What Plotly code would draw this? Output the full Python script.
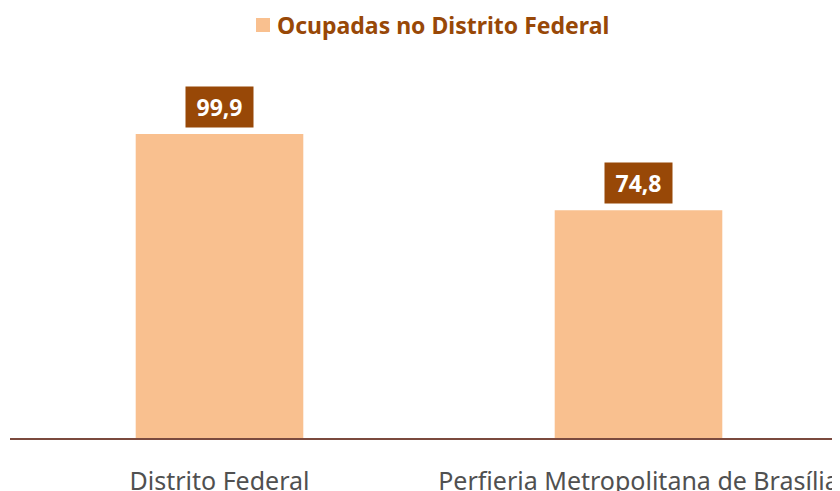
import plotly.graph_objects as go

categories = ["Distrito Federal", "Perfieria Metropolitana de Brasília"]
values = [99.9, 74.8]
labels = ["99,9", "74,8"]
series_name = "Ocupadas no Distrito Federal"

BAR_COLOR = "#F9C08F"
BROWN = "#984807"
FONT = "Noto Sans, Open Sans, sans-serif"

fig = go.Figure()
fig.add_trace(go.Bar(
    x=categories, y=values, name=series_name,
    marker=dict(color=BAR_COLOR, line=dict(width=0)),
    width=0.4, showlegend=False,
))

for c, v, t in zip(categories, values, labels):
    fig.add_annotation(
        x=c, y=v, text="<b>%s</b>" % t, showarrow=False,
        yanchor="bottom", yshift=6,
        font=dict(family=FONT, size=23, color="white"),
        bgcolor=BROWN, borderpad=5, width=57, height=30,
    )

# legend drawn as marker square + bold text
fig.add_shape(
    type="rect", xref="paper", yref="paper",
    xsizemode="pixel", ysizemode="pixel",
    xanchor=0.3019, yanchor=1.0926,
    x0=-7, x1=7, y0=-7, y1=7,
    fillcolor=BAR_COLOR, line=dict(width=0),
)
fig.add_annotation(
    x=0.3162, y=1.0926, xref="paper", yref="paper",
    xanchor="left", yanchor="middle", showarrow=False,
    text="<b>" + series_name + "</b>",
    font=dict(family=FONT, size=23, color=BROWN),
)

fig.update_layout(
    width=840, height=491,
    margin=dict(l=2, r=0, t=52, b=61),
    paper_bgcolor="white", plot_bgcolor="white",
    showlegend=False,
    xaxis=dict(
        range=[-0.5, 1.5], showgrid=False, zeroline=False,
        showline=True, linecolor="#7B4A3E", linewidth=2,
        ticks="", tickfont=dict(family=FONT, size=25, color="#505050"),
        ticklabelstandoff=20, automargin=False,
    ),
    yaxis=dict(range=[0, 124.2], visible=False, showgrid=False, zeroline=False),
)
fig.write_html("out.html")
